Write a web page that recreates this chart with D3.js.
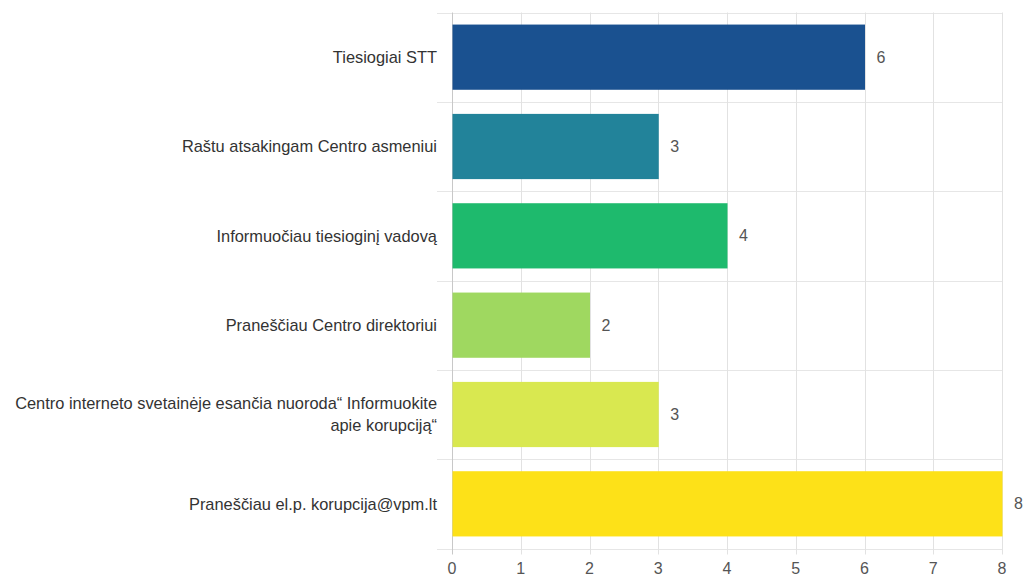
<!DOCTYPE html>
<html><head><meta charset="utf-8">
<script src="https://cdnjs.cloudflare.com/ajax/libs/d3/7.8.5/d3.min.js"></script>
<style>body{margin:0;background:#fff;} text{font-family:"Liberation Sans", Arial, sans-serif;}</style>
</head><body>
<svg id="c" width="1023" height="576"></svg>
<script>
const categories = [
  ["Tiesiogiai STT"],
  ["Raštu atsakingam Centro asmeniui"],
  ["Informuočiau tiesioginį vadovą"],
  ["Praneščiau Centro direktoriui"],
  ["Centro interneto svetainėje esančia nuoroda“ Informuokite", "apie korupciją“"],
  ["Praneščiau el.p. korupcija@vpm.lt"]
];
const values = [6, 3, 4, 2, 3, 8];
const colors = ["#1a5190", "#22839a", "#1eba6d", "#9fd860", "#d9e850", "#fde118"];
const xTicks = [0, 1, 2, 3, 4, 5, 6, 7, 8];

(function(){
const svg = d3.select("#c");
const left = 452, right = 1002, plotTop = 12.5, plotBottom = 548.5;
const x = d3.scaleLinear().domain([0, 8]).range([left, right]);
const y = d3.scaleBand().domain(d3.range(categories.length)).range([plotTop, plotBottom]).paddingInner(0.27).paddingOuter(0.135);
const step = y.step();

const hb = d3.range(categories.length + 1).map(i => plotTop + i * step);
svg.append("g").selectAll("line").data(hb).join("line")
  .attr("x1", left - 15).attr("x2", right)
  .attr("y1", d => Math.round(d) + 0.5).attr("y2", d => Math.round(d) + 0.5)
  .attr("stroke", "#e6e6e6").attr("stroke-width", 1);

svg.append("g").selectAll("line").data(xTicks).join("line")
  .attr("x1", d => Math.round(x(d)) + 0.5).attr("x2", d => Math.round(x(d)) + 0.5)
  .attr("y1", plotTop).attr("y2", plotBottom + 6)
  .attr("stroke", d => d === 0 ? "#c8c8c8" : "#e2e2e2").attr("stroke-width", 1);

svg.append("g").selectAll("rect").data(values).join("rect")
  .attr("x", x(0) + 0.5)
  .attr("y", (d, i) => y(i))
  .attr("width", d => x(d) - x(0))
  .attr("height", y.bandwidth())
  .attr("fill", (d, i) => colors[i]);

svg.append("g").selectAll("text").data(values).join("text")
  .attr("x", d => x(d) + 12)
  .attr("y", (d, i) => y(i) + y.bandwidth() / 2)
  .attr("dy", "0.35em")
  .attr("font-size", 16)
  .attr("fill", "#555")
  .text(d => d);

const lg = svg.append("g");
categories.forEach((lines, i) => {
  const cy = y(i) + y.bandwidth() / 2;
  const lh = 22.5;
  lines.forEach((ln, j) => {
    lg.append("text")
      .attr("x", 437)
      .attr("y", cy + (j - (lines.length - 1) / 2) * lh)
      .attr("dy", "0.35em")
      .attr("text-anchor", "end")
      .attr("font-size", 16.4)
      .attr("fill", "#333")
      .text(ln);
  });
});

svg.append("g").selectAll("text").data(xTicks).join("text")
  .attr("x", d => x(d))
  .attr("y", 568)
  .attr("dy", "0.35em")
  .attr("text-anchor", "middle")
  .attr("font-size", 16)
  .attr("fill", "#555")
  .text(d => d);
})();
</script>
</body></html>
